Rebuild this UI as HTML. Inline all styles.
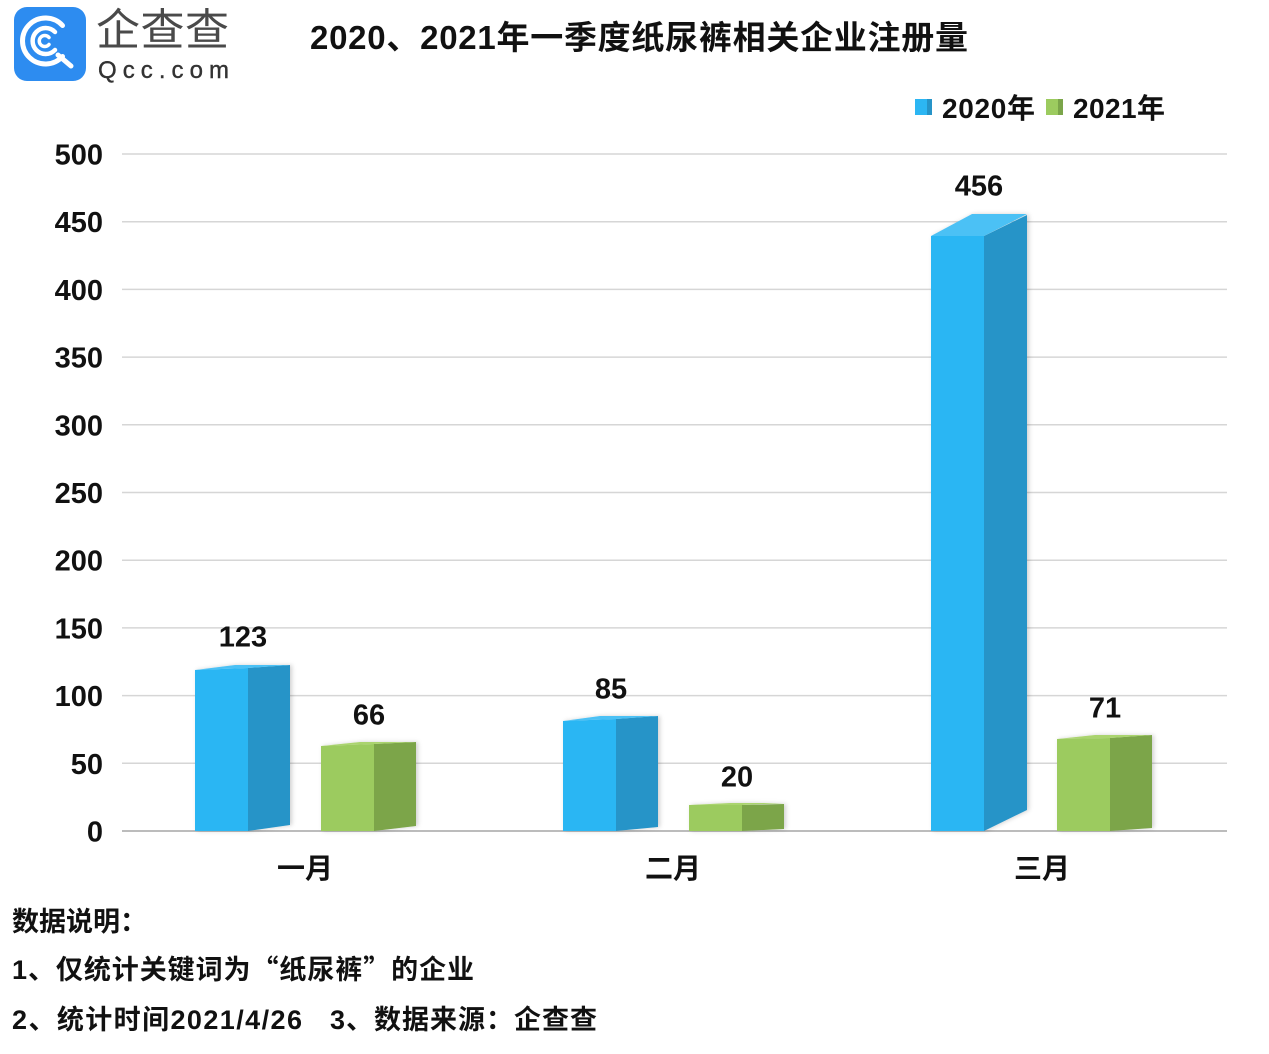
<!DOCTYPE html>
<html>
<head>
<meta charset="utf-8">
<style>
html,body{margin:0;padding:0;background:#fff;}
svg{display:block;}
text{font-family:"Liberation Sans","Noto Sans CJK SC",sans-serif;font-weight:bold;fill:#111;}
.cjk{font-family:"Noto Sans CJK SC",sans-serif;}
</style>
</head>
<body>
<svg width="1269" height="1054" viewBox="0 0 1269 1054" xmlns="http://www.w3.org/2000/svg">
<defs>
<filter id="sh" x="-20%" y="-5%" width="140%" height="110%">
<feDropShadow dx="2" dy="0" stdDeviation="2" flood-color="#000" flood-opacity="0.18"/>
</filter>
</defs>
<rect width="1269" height="1054" fill="#fff"/>

<!-- Logo -->
<rect x="14" y="7" width="72" height="74" rx="13" fill="#2d8cf0"/>
<g fill="none" stroke="#fff" stroke-linecap="round">
<path d="M62.5 25.5 A23 23 0 1 0 62.5 56.5" stroke-width="5"/>
<path d="M58 55 L71 66" stroke-width="5"/>
<path d="M55 32 A13 13 0 1 0 55 50" stroke-width="4.5"/>
<path d="M49 37.5 A5.5 5.5 0 1 0 49 44.5" stroke-width="3.5"/>
</g>
<text x="96" y="45" font-size="44" style="font-weight:normal;fill:#4a4a4a" textLength="133" lengthAdjust="spacing">企查查</text>
<text x="98" y="78" font-size="24" style="font-weight:normal;fill:#333;stroke:#333;stroke-width:0.4" textLength="131" lengthAdjust="spacing">Qcc.com</text>

<!-- Title -->
<text x="310" y="49" font-size="33" textLength="658" lengthAdjust="spacing">2020、2021年一季度纸尿裤相关企业注册量</text>

<!-- Legend -->
<rect x="915" y="99" width="12" height="16" fill="#2cb6f3"/>
<rect x="927" y="99" width="5" height="16" fill="#2694c8"/>
<text x="942" y="118" font-size="28" textLength="93" lengthAdjust="spacing">2020年</text>
<rect x="1046" y="99" width="12" height="16" fill="#9ccb5f"/>
<rect x="1058" y="99" width="5" height="16" fill="#7ba54a"/>
<text x="1073" y="118" font-size="28" textLength="92" lengthAdjust="spacing">2021年</text>

<!-- Gridlines -->
<g stroke="#d6d6d6" stroke-width="1.5">
<line x1="122" y1="154" x2="1227" y2="154"/>
<line x1="122" y1="221.7" x2="1227" y2="221.7"/>
<line x1="122" y1="289.4" x2="1227" y2="289.4"/>
<line x1="122" y1="357.1" x2="1227" y2="357.1"/>
<line x1="122" y1="424.8" x2="1227" y2="424.8"/>
<line x1="122" y1="492.5" x2="1227" y2="492.5"/>
<line x1="122" y1="560.2" x2="1227" y2="560.2"/>
<line x1="122" y1="627.9" x2="1227" y2="627.9"/>
<line x1="122" y1="695.6" x2="1227" y2="695.6"/>
<line x1="122" y1="763.3" x2="1227" y2="763.3"/>
</g>
<line x1="122" y1="831" x2="1227" y2="831" stroke="#bcbcbc" stroke-width="2"/>

<!-- Y labels -->
<g font-size="29" text-anchor="end">
<text x="103" y="164.5">500</text>
<text x="103" y="232.2">450</text>
<text x="103" y="299.9">400</text>
<text x="103" y="367.6">350</text>
<text x="103" y="435.3">300</text>
<text x="103" y="503">250</text>
<text x="103" y="570.7">200</text>
<text x="103" y="638.4">150</text>
<text x="103" y="706.1">100</text>
<text x="103" y="773.8">50</text>
<text x="103" y="841.5">0</text>
</g>

<!-- Bars -->
<g filter="url(#sh)">
<polygon points="248,668 290,665 290,825 248,831" fill="#2694c8"/>
<polygon points="195,670 248,668 248,831 195,831" fill="#2cb6f3"/>
<polygon points="195,670 235,665 290,665 248,668" fill="#4cc1f5"/>
<polygon points="374,744 416,742 416,826 374,831" fill="#7ba54a"/>
<polygon points="321,746 374,744 374,831 321,831" fill="#9ccb5f"/>
<polygon points="321,746 360,742 416,742 374,744" fill="#aad46e"/>
<polygon points="616,719 658,716 658,827 616,831" fill="#2694c8"/>
<polygon points="563,721 616,719 616,831 563,831" fill="#2cb6f3"/>
<polygon points="563,721 600,716 658,716 616,719" fill="#4cc1f5"/>
<polygon points="742,805 784,804 784,829 742,831" fill="#7ba54a"/>
<polygon points="689,805 742,805 742,831 689,831" fill="#9ccb5f"/>
<polygon points="689,805 730,803 784,803 742,805" fill="#aad46e"/>
<polygon points="984,236 1027,215 1027,810 984,831" fill="#2694c8"/>
<polygon points="931,236 984,236 984,831 931,831" fill="#2cb6f3"/>
<polygon points="931,236 972,214 1027,214 984,236" fill="#4cc1f5"/>
<polygon points="1110,738 1152,735 1152,828 1110,831" fill="#7ba54a"/>
<polygon points="1057,739 1110,738 1110,831 1057,831" fill="#9ccb5f"/>
<polygon points="1057,739 1095,735 1152,735 1110,738" fill="#aad46e"/>
</g>

<!-- Data labels -->
<g font-size="29" text-anchor="middle">
<text x="243" y="646.5">123</text>
<text x="369" y="724.5">66</text>
<text x="611" y="698.5">85</text>
<text x="737" y="786.5">20</text>
<text x="979" y="195.5">456</text>
<text x="1105" y="717.5">71</text>
</g>

<!-- X labels -->
<g font-size="28" text-anchor="middle">
<text x="305" y="878">一月</text>
<text x="673" y="878">二月</text>
<text x="1042" y="878">三月</text>
</g>

<!-- Footer -->
<g font-size="27">
<text x="12" y="931">数据说明：</text>
<text x="12" y="979" textLength="462" lengthAdjust="spacing">1、仅统计关键词为<tspan class="cjk">“</tspan>纸尿裤<tspan class="cjk">”</tspan>的企业</text>
<text x="12" y="1029" textLength="290" lengthAdjust="spacing">2、统计时间2021/4/26</text>
<text x="330" y="1029" textLength="267" lengthAdjust="spacing">3、数据来源：企查查</text>
</g>
</svg>
</body>
</html>
